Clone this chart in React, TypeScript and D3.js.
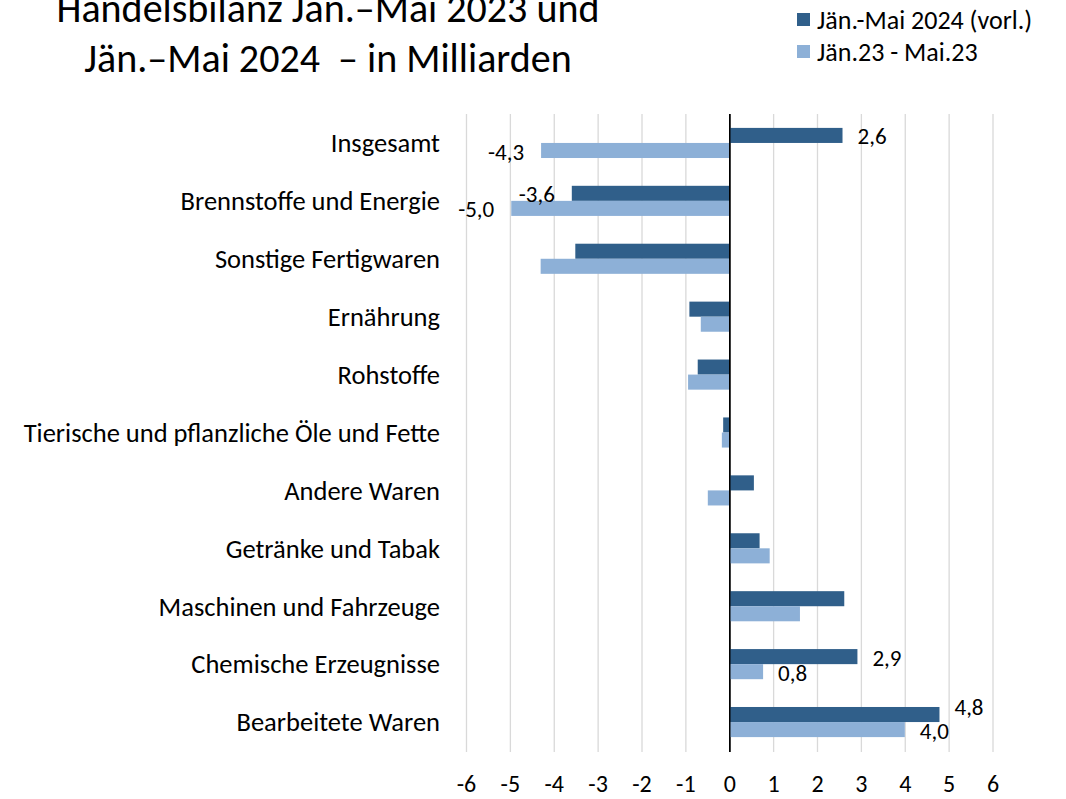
import React from "react";
import * as d3 from "d3";

const categories = [
  "Insgesamt",
  "Brennstoffe und Energie",
  "Sonstige Fertigwaren",
  "Ernährung",
  "Rohstoffe",
  "Tierische und pflanzliche Öle und Fette",
  "Andere Waren",
  "Getränke und Tabak",
  "Maschinen und Fahrzeuge",
  "Chemische Erzeugnisse",
  "Bearbeitete Waren",
];
const series2024 = [2.57, -3.6, -3.52, -0.92, -0.73, -0.15, 0.55, 0.68, 2.61, 2.91, 4.78];
const series2023 = [-4.3, -4.98, -4.31, -0.66, -0.95, -0.18, -0.5, 0.91, 1.6, 0.76, 3.99];
const labels2024 = ["2,6", "-3,6", "", "", "", "", "", "", "", "2,9", "4,8"];
const labels2023 = ["-4,3", "-5,0", "", "", "", "", "", "", "", "0,8", "4,0"];
const xTicks = [-6, -5, -4, -3, -2, -1, 0, 1, 2, 3, 4, 5, 6];
const seriesNames = ["Jän.-Mai 2024 (vorl.)", "Jän.23 - Mai.23"];
const titleLines = ["Handelsbilanz Jän.–Mai 2023 und", "Jän.–Mai 2024  – in Milliarden"];

const colors = ["#305F8A", "#8DB0D7"];
const FONT = "Carlito, Calibri, Lato, 'Noto Sans', sans-serif";

export default function App() {
  const W = 1066;
  const H = 799;
  const x = d3.scaleLinear().domain([-6, 6]).range([466.5, 993]);
  const y = d3.scaleBand<string>().domain(categories).range([114, 751]).paddingInner(0.48).paddingOuter(0.24);
  const inner = d3.scaleBand<string>().domain(["a", "b"]).range([0, y.bandwidth()]);
  const allSeries = [
    { key: "a", values: series2024, labels: labels2024, color: colors[0] },
    { key: "b", values: series2023, labels: labels2023, color: colors[1] },
  ];

  return (
    <svg width={W} height={H} style={{ position: "absolute", left: 0, top: 0, background: "#fff" }} fontFamily={FONT}>
      <rect width={W} height={H} fill="#fff" />
      {/* title */}
      {titleLines.map((t, i) => (
        <text key={i} x={328} y={22 + i * 50} textAnchor="middle" fontSize={40} fill="#000" style={{ whiteSpace: "pre" }}>
          {t}
        </text>
      ))}
      {/* legend */}
      {seriesNames.map((n, i) => (
        <g key={n} transform={`translate(797,${13 + i * 32})`}>
          <rect width={13} height={13} fill={colors[i]} />
          <text x={20} y={7} dy="0.35em" fontSize={26} fill="#000">
            {n}
          </text>
        </g>
      ))}
      {/* grid */}
      {xTicks.map((t) => (
        <line key={t} x1={x(t)} x2={x(t)} y1={114} y2={752} stroke={t === 0 ? "#000" : "#D9D9D9"} strokeWidth={t === 0 ? 1.5 : 1.3} />
      ))}
      {/* bars */}
      {allSeries.map((s) =>
        categories.map((c, i) => {
          const v = s.values[i];
          const y0 = (y(c) as number) + (inner(s.key) as number);
          return (
            <rect
              key={s.key + c}
              x={Math.min(x(0), x(v))}
              y={y0}
              width={Math.abs(x(v) - x(0))}
              height={inner.bandwidth()}
              fill={s.color}
            />
          );
        })
      )}
      {/* redraw zero axis on top */}
      <line x1={x(0)} x2={x(0)} y1={114} y2={752} stroke="#000" strokeWidth={1.5} />
      {/* data labels */}
      {allSeries.map((s) =>
        categories.map((c, i) => {
          const lbl = s.labels[i];
          if (!lbl) return null;
          const v = s.values[i];
          const cy = (y(c) as number) + (inner(s.key) as number) + inner.bandwidth() / 2;
          const pos = v >= 0;
          const shift = s.key === "a" && i === categories.length - 1 ? -8 : 1;
          return (
            <text
              key={"l" + s.key + c}
              x={x(v) + (pos ? 15 : -17)}
              y={cy + shift}
              dy="0.35em"
              textAnchor={pos ? "start" : "end"}
              fontSize={23}
              fill="#000"
            >
              {lbl}
            </text>
          );
        })
      )}
      {/* category labels */}
      {categories.map((c) => (
        <text key={c} x={440} y={(y(c) as number) + y.bandwidth() / 2} dy="0.35em" textAnchor="end" fontSize={26.5} fill="#000">
          {c}
        </text>
      ))}
      {/* x tick labels */}
      {xTicks.map((t) => (
        <text key={"t" + t} x={x(t)} y={784} dy="0.35em" textAnchor="middle" fontSize={24} fill="#000">
          {String(t)}
        </text>
      ))}
    </svg>
  );
}
